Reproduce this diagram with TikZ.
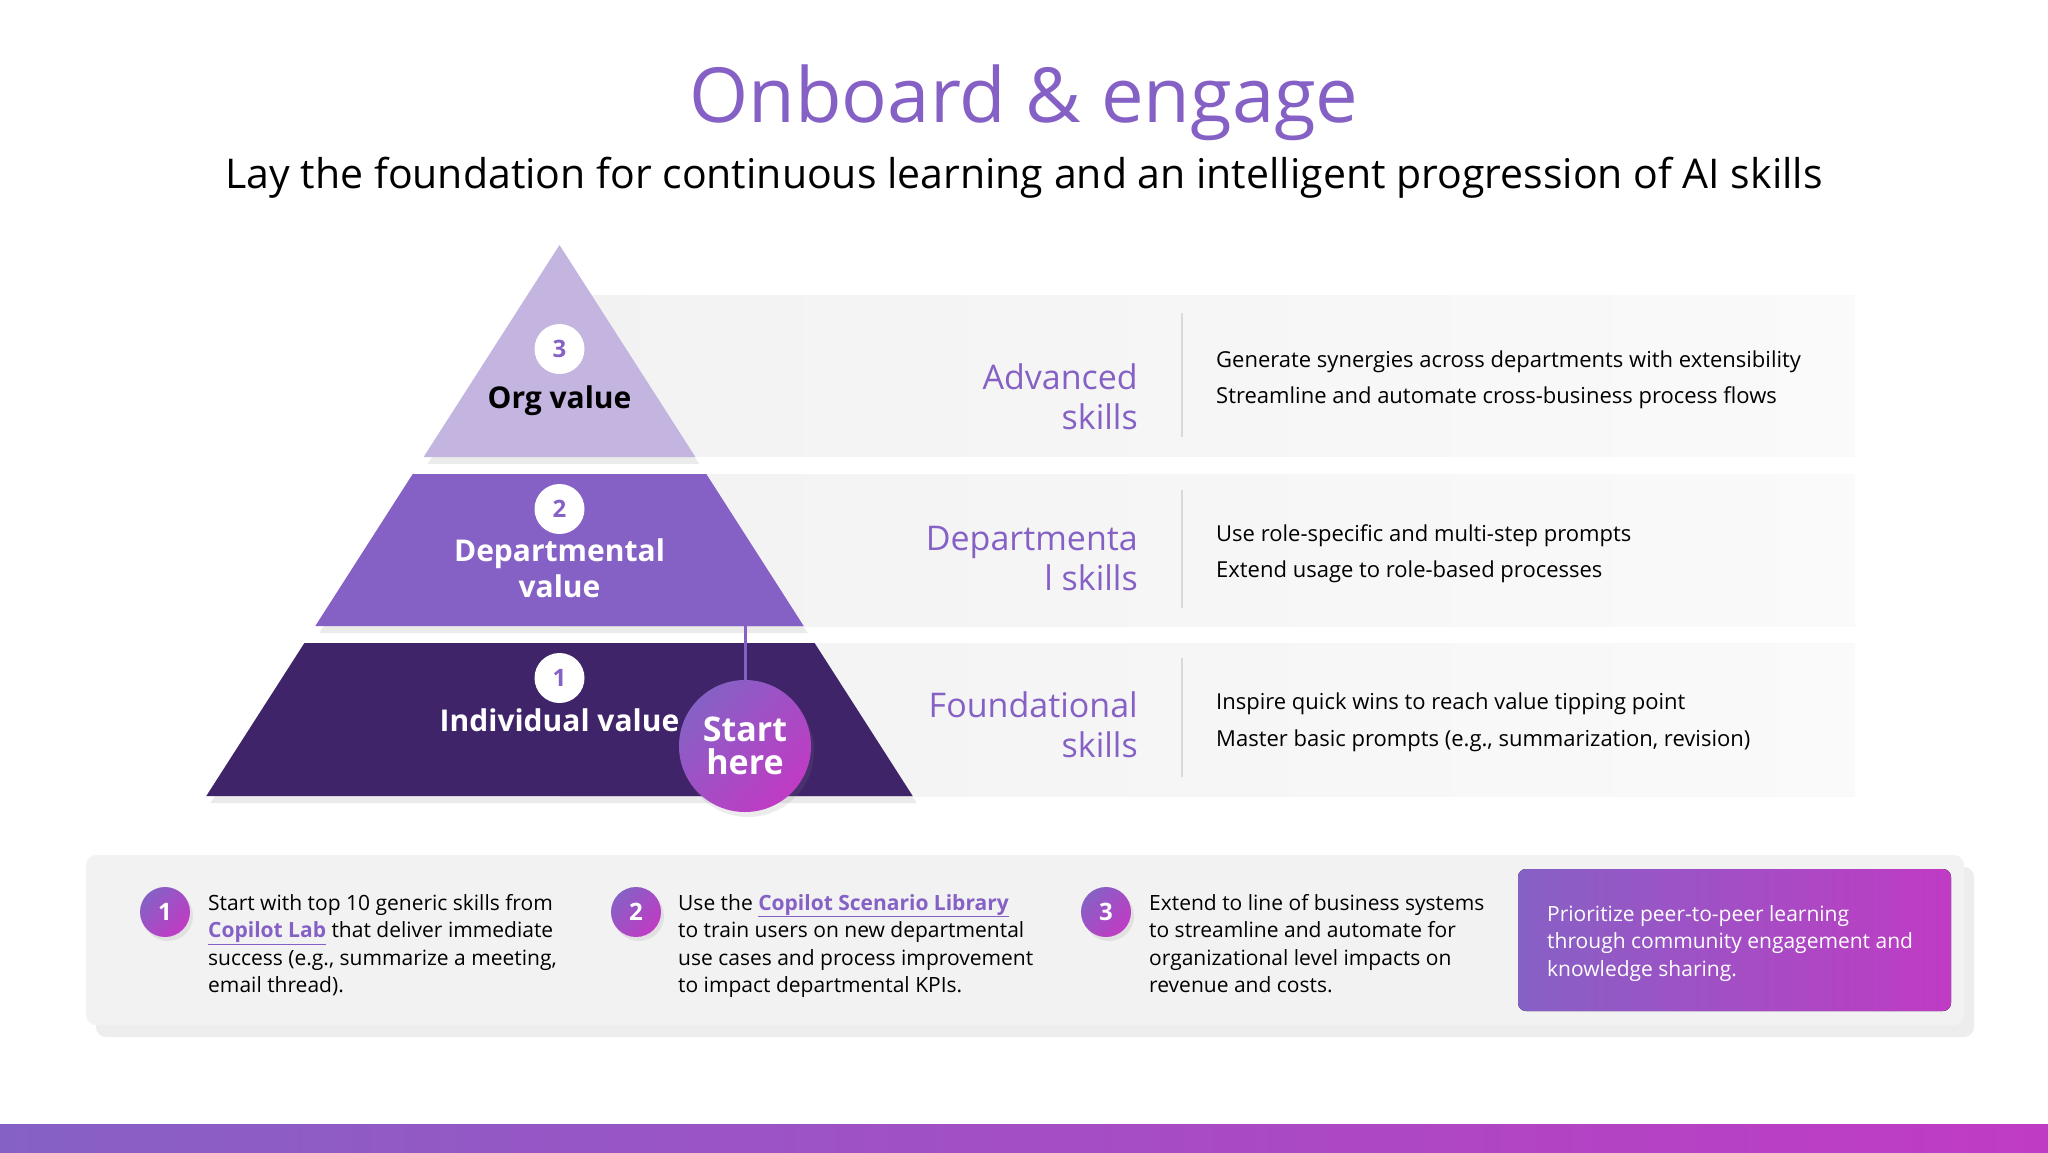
\documentclass[tikz,border=0pt]{standalone}
\usepackage{fontspec}
\setmainfont{Open Sans}
\usepackage{xcolor}
\usepackage{tikz}
\usetikzlibrary{positioning,shadows}
\definecolor{Purple}{HTML}{8661C5}
\definecolor{Magenta}{HTML}{C03BC4}
\definecolor{Plum}{HTML}{3F2469}
\definecolor{Lilac}{HTML}{C3B4E0}
\definecolor{PanelL}{HTML}{F2F2F2}
\definecolor{PanelR}{HTML}{FAFAFA}
\definecolor{Card}{HTML}{F2F2F2}
\definecolor{Rule}{HTML}{D9D9D9}
\newcommand\linktext[1]{\textcolor{Purple}{\bfseries\underline{#1}}}
\newcommand\fsz[2]{\fontsize{#1}{#2}\selectfont}

\begin{document}
\begin{tikzpicture}[x=1pt,y=-1pt,
  every node/.style={inner sep=0pt},
  layershadow/.style={drop shadow={shadow xshift=4pt,shadow yshift=-7pt,opacity=0.16}},
  panel/.style={left color=PanelL,right color=PanelR},
  rule/.style={draw=Rule,line width=1.5pt},
  valnum/.style={circle,fill=white,minimum size=50pt,text=Purple,font=\fsz{24}{24}\bfseries},
  vallabel/.style={font=\fsz{30}{36}\bfseries,align=center,anchor=base},
  skill/.style={font=\fsz{34}{40},text=Purple,align=right,anchor=base east},
  bullet/.style={font=\fsz{22}{22},anchor=base west},
  gradfill/.style={left color=Purple,right color=Magenta,shading angle=45},
  stepnum/.style={circle,gradfill,minimum size=50pt,text=white,font=\fsz{24}{24}\bfseries,
    drop shadow={opacity=0.15,shadow xshift=3pt,shadow yshift=-4pt}},
  steptext/.style={font=\fsz{21}{27.5},align=left,anchor=base west}
]
\useasboundingbox (0,0) rectangle (2048,1152);

% heading
\node[font=\fsz{76}{76},text=Purple,anchor=base] (title) at (1024,122) {Onboard \& engage};
\node[font=\fsz{41}{41},anchor=base] (subtitle) at (1024,188) {Lay the foundation for continuous learning and an intelligent progression of AI skills};

% skill bands
\fill[panel] (560,295) rectangle (1855,456);
\fill[panel] (560,474) rectangle (1855,626);
\fill[panel] (560,643) rectangle (1855,796);
\draw[rule] (1182,313) -- (1182,437);
\draw[rule] (1182,490) -- (1182,608);
\draw[rule] (1182,658) -- (1182,777);

% pyramid
\fill[Lilac,layershadow] (559.5,245) -- (695.4,457) -- (423.6,457) -- cycle;
\fill[Purple,layershadow] (412.7,474) -- (706.3,474) -- (803.7,626) -- (315.3,626) -- cycle;
\fill[Plum,layershadow] (304.4,643) -- (814.6,643) -- (912.7,796) -- (206.3,796) -- cycle;

\node[valnum] (n3) at (559.5,349) {3};
\node[vallabel] (org) at (559.5,408) {Org value};
\node[valnum] (n2) at (559.5,509) {2};
\node[vallabel,text=white] (dept) at (559.5,597) {Departmental\\value};
\node[valnum] (n1) at (559.5,678) {1};
\node[vallabel,text=white] (indiv) at (559.5,731) {Individual value};

\coordinate (midbase) at (745,626);
\node[circle,gradfill,minimum size=132pt,text=white,align=center,
  font=\fsz{34}{32.5}\bfseries,
  drop shadow={opacity=0.15,shadow xshift=3pt,shadow yshift=-5pt}] (start) at (745,746) {Start\\here};
\draw[Purple,line width=3pt] (midbase) -- (start);

% skill labels
\node[skill] (adv) at (1138,429) {Advanced\\skills};
\node[skill] (dep) at (1138,590) {Departmenta\\l skills};
\node[skill] (fnd) at (1138,757) {Foundational\\skills};

\node[bullet] (adv1) at (1216,367) {Generate synergies across departments with extensibility};
\node[bullet] (adv2) at (1216,403) {Streamline and automate cross-business process flows};
\node[bullet] (dep1) at (1216,541) {Use role-specific and multi-step prompts};
\node[bullet] (dep2) at (1216,577) {Extend usage to role-based processes};
\node[bullet] (fnd1) at (1216,709) {Inspire quick wins to reach value tipping point};
\node[bullet] (fnd2) at (1216,746) {Master basic prompts (e.g., summarization, revision)};

% steps card
\fill[Card,rounded corners=10pt,drop shadow={opacity=0.14,shadow xshift=10pt,shadow yshift=-12pt}]
  (86,855) rectangle (1964,1025);
\node[stepnum] (s1) at (165,912) {1};
\node[steptext] (t1) at (208,992.5) {Start with top 10 generic skills from\\\linktext{Copilot Lab} that deliver immediate\\success (e.g., summarize a meeting,\\email thread).};
\node[stepnum] (s2) at (636,912) {2};
\node[steptext] (t2) at (678,992.5) {Use the \linktext{Copilot Scenario Library}\\to train users on new departmental\\use cases and process improvement\\to impact departmental KPIs.};
\node[stepnum] (s3) at (1106,912) {3};
\node[steptext] (t3) at (1149,992.5) {Extend to line of business systems\\to streamline and automate for\\organizational level impacts on\\revenue and costs.};
\fill[left color=Purple,right color=Magenta,rounded corners=8pt] (1518,869) rectangle (1951,1011);
\node[steptext,text=white] (peer) at (1547,976) {Prioritize peer-to-peer learning\\through community engagement and\\knowledge sharing.};

% bottom bar
\fill[left color=Purple,right color=Magenta] (0,1124) rectangle (2048,1152);
\end{tikzpicture}
\end{document}
